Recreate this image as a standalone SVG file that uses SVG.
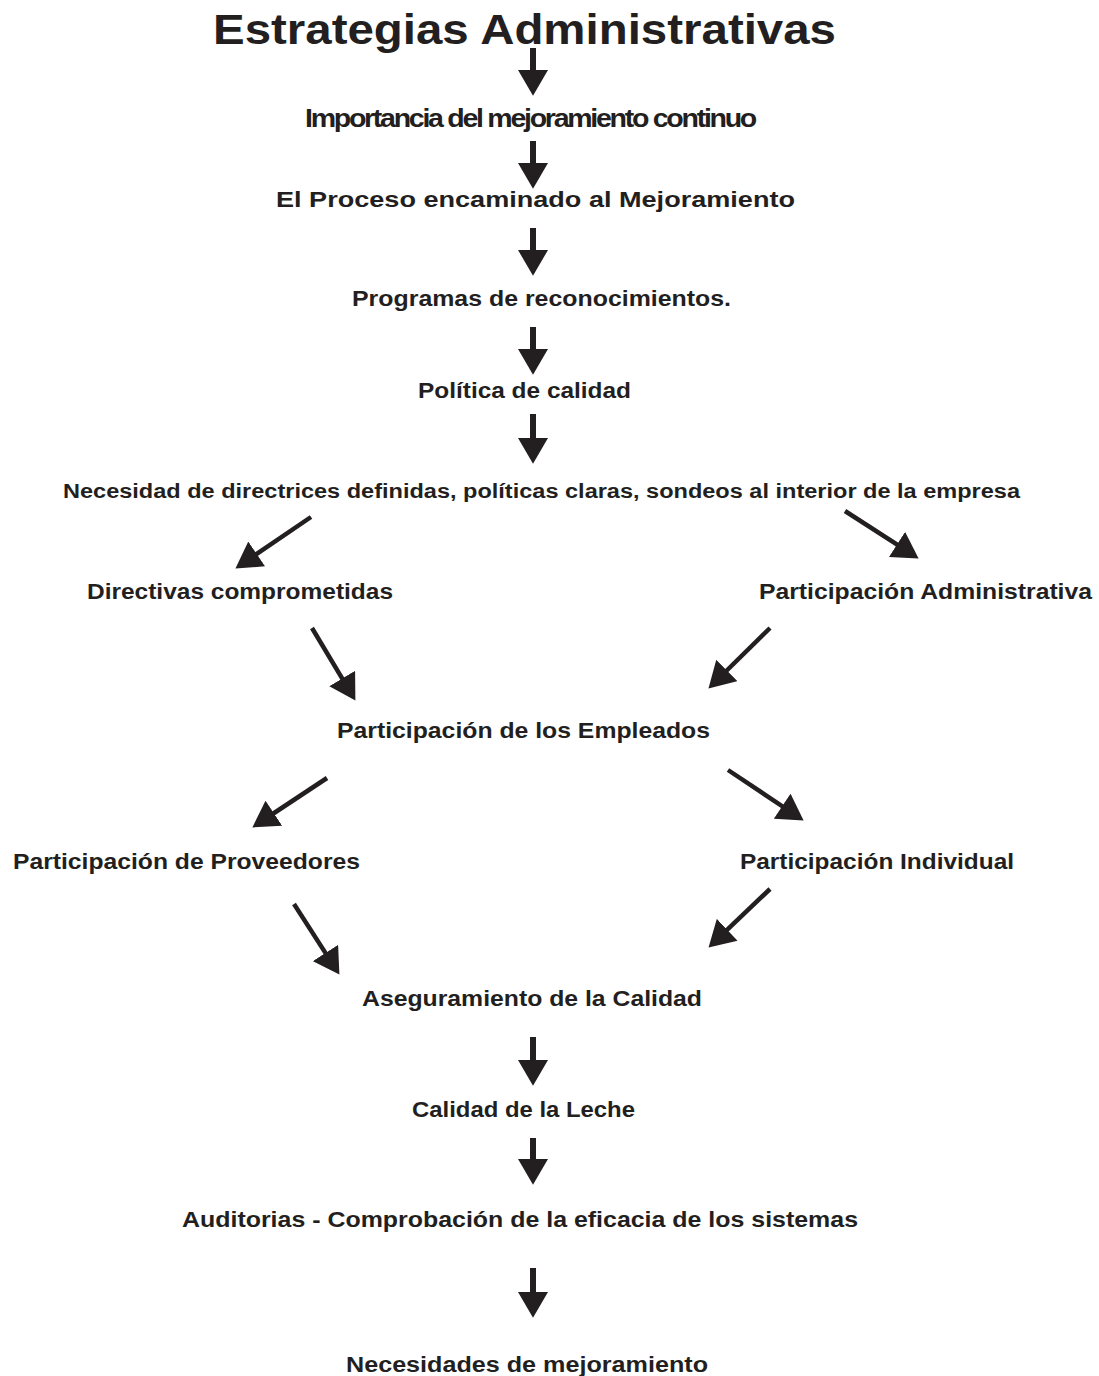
<svg xmlns="http://www.w3.org/2000/svg" width="1099" height="1376" viewBox="0 0 1099 1376">
<defs>
<style>
text{font-family:"Liberation Sans",Arial,sans-serif;font-weight:bold;fill:#231f20;font-size:22px}
.c path{fill:none;stroke:#231f20;marker-end:url(#ah)}
.v{stroke-width:6}
.d{stroke-width:4.5}
</style>
<marker id="ah" markerUnits="userSpaceOnUse" markerWidth="26" markerHeight="30" viewBox="0 0 24 28" refX="14" refY="14" orient="auto">
<path d="M0,0 L24,14 L0,28 Z" fill="#231f20"/>
</marker>
</defs>
<rect width="1099" height="1376" fill="#fff"/>
<g id="title"><text x="213" y="44" style="font-size:42px" textLength="623" lengthAdjust="spacingAndGlyphs">Estrategias Administrativas</text></g>
<g id="n1"><text x="305" y="127" style="font-size:25px;letter-spacing:-2px" textLength="450" lengthAdjust="spacingAndGlyphs">Importancia del mejoramiento continuo</text></g>
<g id="n2"><text x="276" y="207" textLength="519" lengthAdjust="spacingAndGlyphs">El Proceso encaminado al Mejoramiento</text></g>
<g id="n3"><text x="352" y="306" textLength="379" lengthAdjust="spacingAndGlyphs">Programas de reconocimientos.</text></g>
<g id="n4"><text x="418" y="398" textLength="213" lengthAdjust="spacingAndGlyphs">Política de calidad</text></g>
<g id="n5"><text x="63" y="497.5" textLength="957" lengthAdjust="spacingAndGlyphs" style="font-size:20px">Necesidad de directrices definidas, políticas claras, sondeos al interior de la empresa</text></g>
<g id="n6"><text x="87" y="599" textLength="306" lengthAdjust="spacingAndGlyphs">Directivas comprometidas</text></g>
<g id="n7"><text x="759" y="599" textLength="333" lengthAdjust="spacingAndGlyphs">Participación Administrativa</text></g>
<g id="n8"><text x="337" y="737.5" textLength="373" lengthAdjust="spacingAndGlyphs">Participación de los Empleados</text></g>
<g id="n9"><text x="13" y="869" textLength="347" lengthAdjust="spacingAndGlyphs">Participación de Proveedores</text></g>
<g id="n10"><text x="740" y="869" textLength="274" lengthAdjust="spacingAndGlyphs">Participación Individual</text></g>
<g id="n11"><text x="362" y="1005.5" textLength="340" lengthAdjust="spacingAndGlyphs">Aseguramiento de la Calidad</text></g>
<g id="n12"><text x="412" y="1116.5" textLength="223" lengthAdjust="spacingAndGlyphs">Calidad de la Leche</text></g>
<g id="n13"><text x="182" y="1227" textLength="676" lengthAdjust="spacingAndGlyphs">Auditorias - Comprobación de la eficacia de los sistemas</text></g>
<g id="n14"><text x="346" y="1372" textLength="362" lengthAdjust="spacingAndGlyphs">Necesidades de mejoramiento</text></g>
<g id="connectors" class="c">
<path class="v" d="M533,48 V85"/>
<path class="v" d="M533,141 V178"/>
<path class="v" d="M533,228 V265"/>
<path class="v" d="M533,327 V364"/>
<path class="v" d="M533,414 V453"/>
<path class="d" d="M311,517 L244.3,562.4"/>
<path class="d" d="M845,511 L909.6,552.6"/>
<path class="d" d="M312,628 L349.9,691.4"/>
<path class="d" d="M770,628 L716.1,681"/>
<path class="d" d="M327,778 L261.3,821.5"/>
<path class="d" d="M728,770 L794.7,814.5"/>
<path class="d" d="M294,904 L333.6,965.6"/>
<path class="d" d="M770,889 L716.3,940.1"/>
<path class="v" d="M533,1037 V1075"/>
<path class="v" d="M533,1138 V1174"/>
<path class="v" d="M533,1268 V1307"/>
</g>
</svg>
